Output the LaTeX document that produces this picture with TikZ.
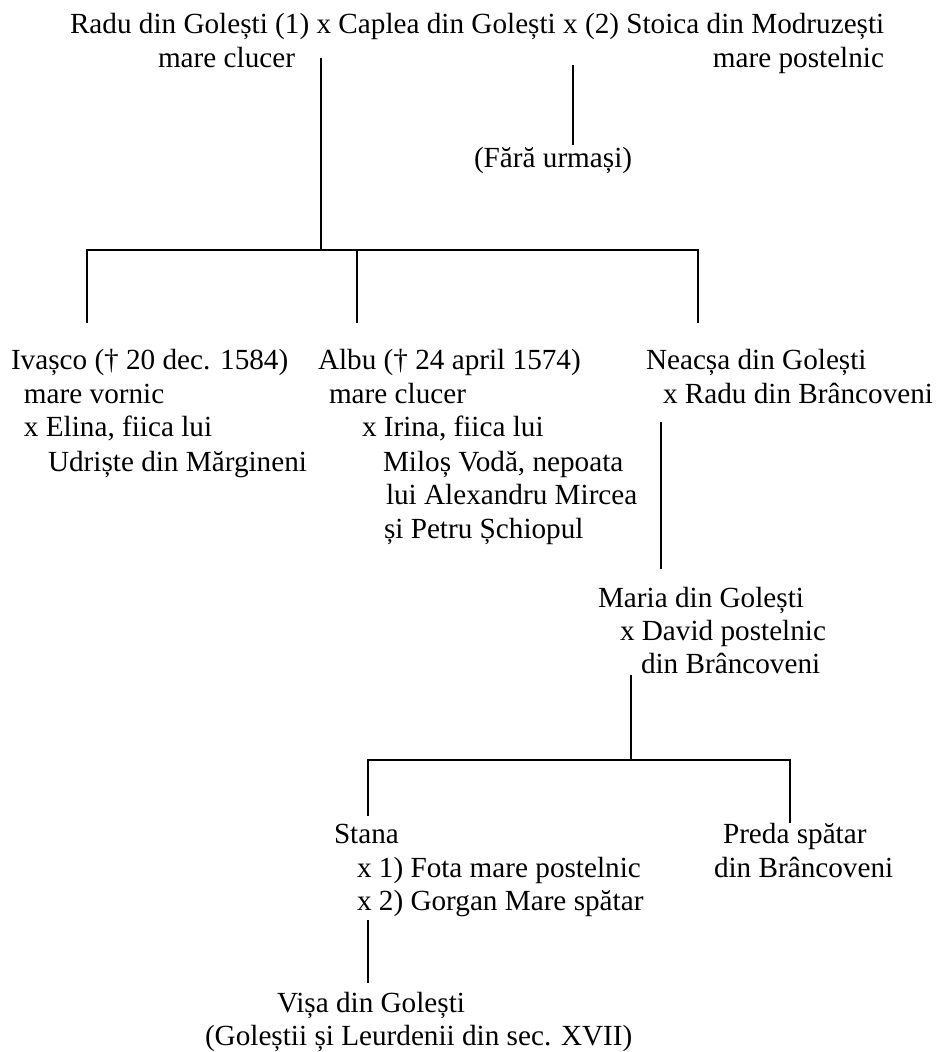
\documentclass[tikz,border=0pt]{standalone}
\usepackage{fontspec}
\setmainfont{Liberation Serif}
\tikzset{
  txt/.style={anchor=base west, inner sep=0pt, outer sep=0pt, font=\fontsize{14.6}{16.75}\selectfont},
  txtr/.style={txt, anchor=base east},
  link/.style={draw=black, line width=0.8pt}
}
\begin{document}
\begin{tikzpicture}[x=0.5pt, y=-0.5pt]
\useasboundingbox (0,0) rectangle (936,1052);
% top generation
\node[txt] (top1) at (70,34) {Radu din Golești (1) x Caplea din Golești x (2) Stoica din Modruzești};
\node[txt] (top2) at (158,68) {mare clucer};
\node[txtr] (top3) at (884,68) {mare postelnic};
\node[txt] (fara) at (474,168) {(Fără urmași)};
% children
\node[txt] (iv1) at (11,370) {Ivașco († 20 dec. 1584)};
\node[txt] (iv2) at (24,404) {mare vornic};
\node[txt] (iv3) at (24,437) {x Elina, fiica lui};
\node[txt] (iv4) at (48,471) {Udriște din Mărgineni};
\node[txt] (al1) at (318,370) {Albu († 24 april 1574)};
\node[txt] (al2) at (329,404) {mare clucer};
\node[txt] (al3) at (362,437) {x Irina, fiica lui};
\node[txt] (al4) at (383,471) {Miloș Vodă, nepoata};
\node[txt] (al5) at (386,504) {lui Alexandru Mircea};
\node[txt] (al6) at (384,538) {și Petru Șchiopul};
\node[txt] (ne1) at (646,370) {Neacșa din Golești};
\node[txt] (ne2) at (663,404) {x Radu din Brâncoveni};
% Maria
\node[txt] (ma1) at (598,607) {Maria din Golești};
\node[txt] (ma2) at (620,640) {x David postelnic};
\node[txt] (ma3) at (641,673) {din Brâncoveni};
% grandchildren
\node[txt] (st1) at (334,843) {Stana};
\node[txt] (st2) at (357,877) {x 1) Fota mare postelnic};
\node[txt] (st3) at (357,910) {x 2) Gorgan Mare spătar};
\node[txt] (pr1) at (723,843) {Preda spătar};
\node[txt] (pr2) at (714,877) {din Brâncoveni};
% Visa
\node[txt] (vi1) at (277,1012) {Vișa din Golești};
\node[txt] (vi2) at (205,1045) {(Goleștii și Leurdenii din sec. XVII)};
% connector coordinates
\coordinate (aTop) at (321,58);
\coordinate (aJ) at (321,250);
\coordinate (hL) at (87,250);
\coordinate (hM) at (357,250);
\coordinate (hR) at (698,250);
\coordinate (dL) at (87,323);
\coordinate (dM) at (357,323);
\coordinate (dR) at (698,323);
\coordinate (bTop) at (573,65);
\coordinate (bBot) at (573,145);
\coordinate (nTop) at (661,422);
\coordinate (nBot) at (661,569);
\coordinate (mTop) at (631,675);
\coordinate (mJ) at (631,760);
\coordinate (gL) at (368,760);
\coordinate (gR) at (790,760);
\coordinate (gLd) at (368,816);
\coordinate (gRd) at (790,823);
\coordinate (sTop) at (368,920);
\coordinate (sBot) at (368,983);
% connectors
\draw[link] (aTop) -- (aJ);
\draw[link] (dL) -- (hL) -- (hR) -- (dR);
\draw[link] (hM) -- (dM);
\draw[link] (bTop) -- (bBot);
\draw[link] (nTop) -- (nBot);
\draw[link] (mTop) -- (mJ);
\draw[link] (gLd) -- (gL) -- (gR) -- (gRd);
\draw[link] (sTop) -- (sBot);
\end{tikzpicture}
\end{document}
